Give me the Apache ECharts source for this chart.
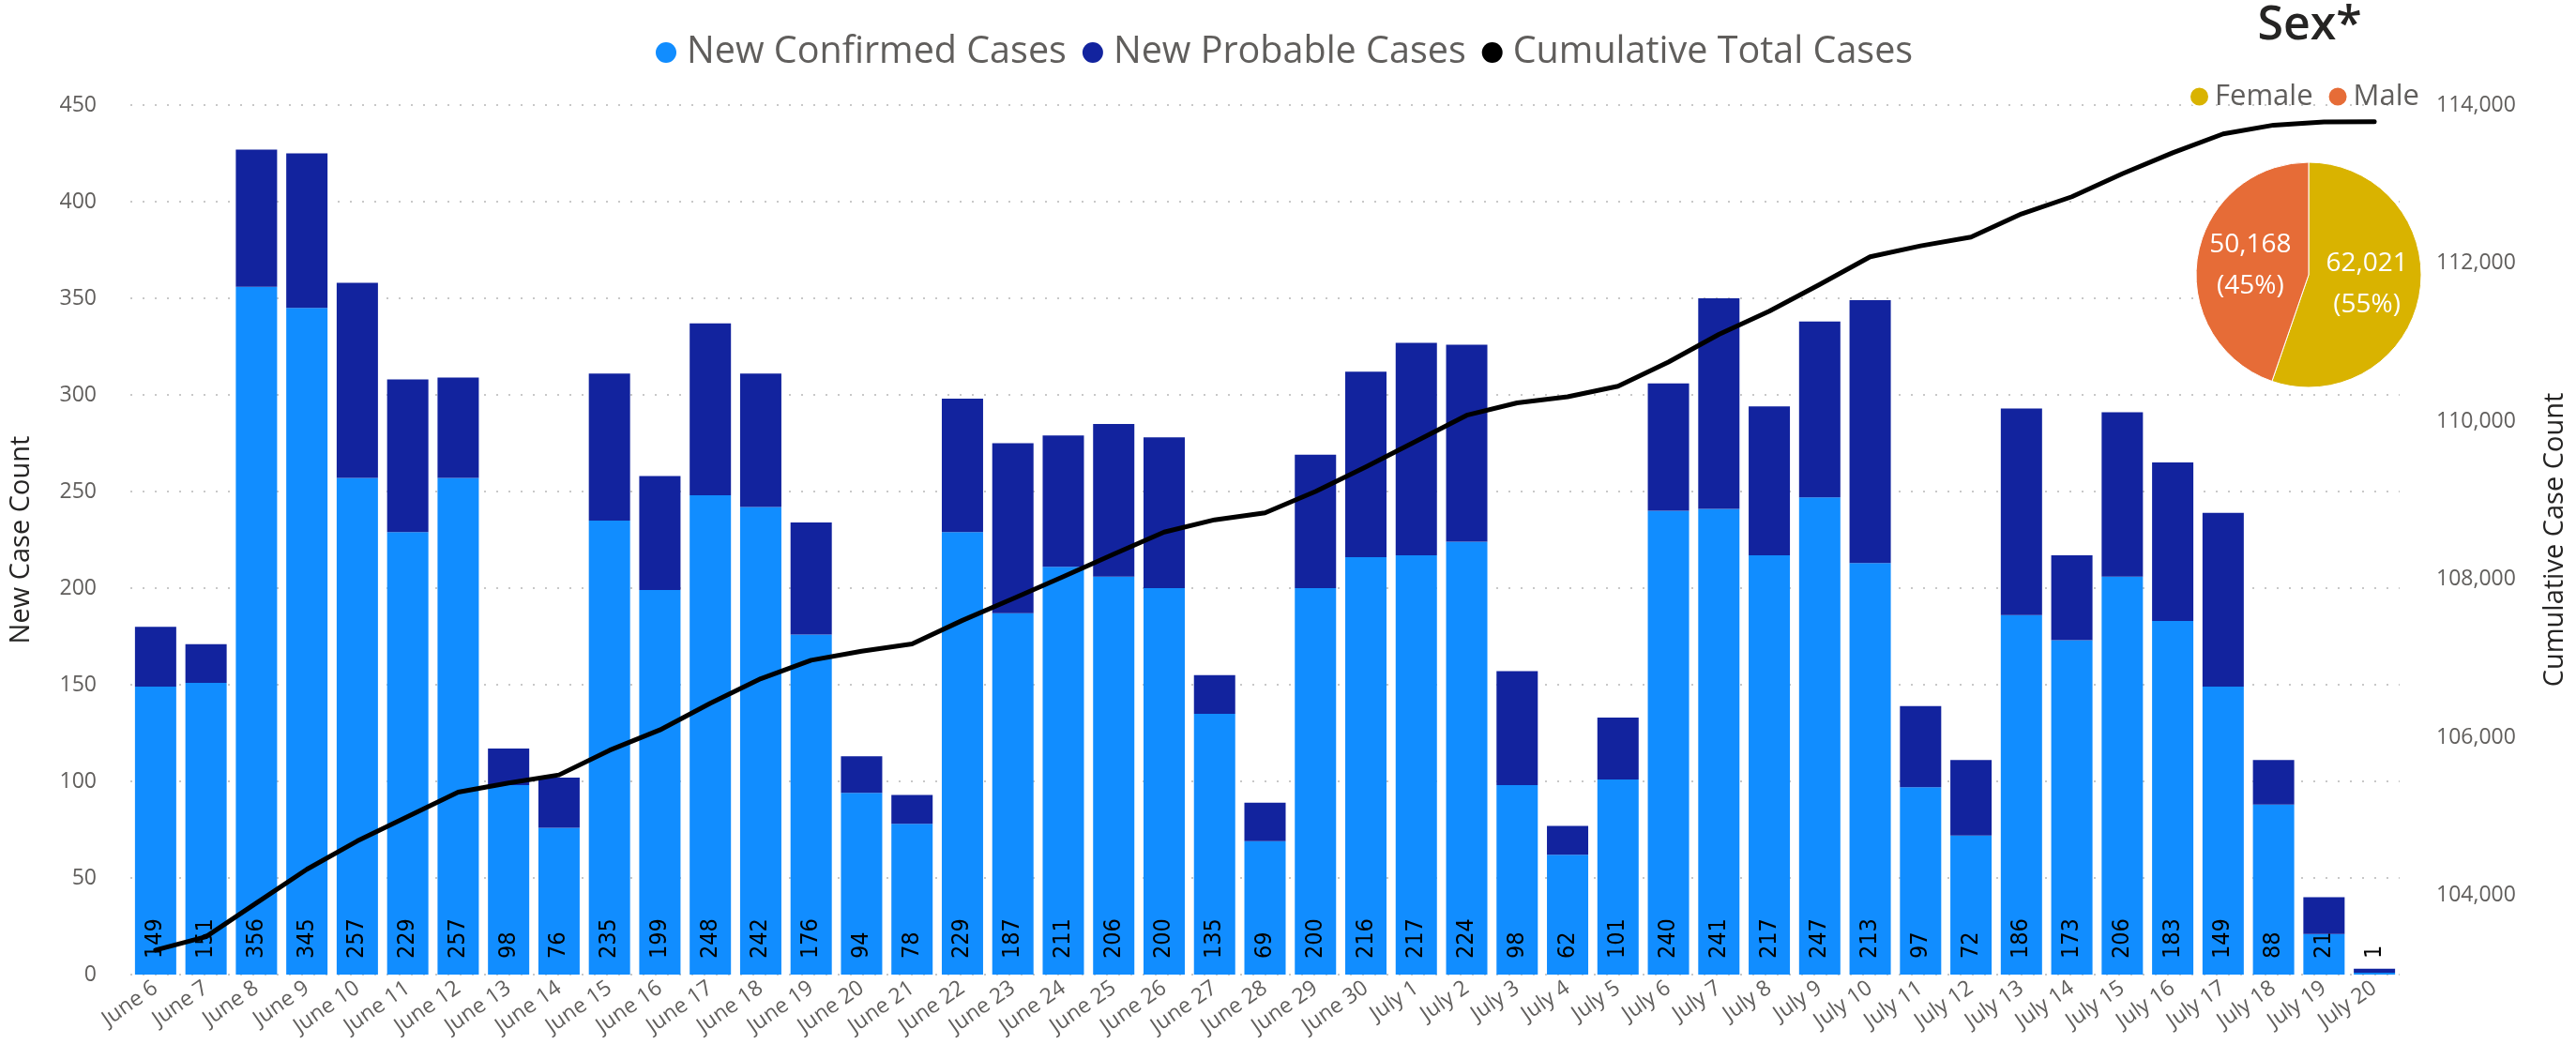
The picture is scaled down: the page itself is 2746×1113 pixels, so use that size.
<!DOCTYPE html>
<html>
<head>
<meta charset="utf-8">
<title>New and Cumulative Cases</title>
<script src="https://cdn.jsdelivr.net/npm/echarts@6/dist/echarts.min.js"></script>
<style>
  html, body { margin: 0; padding: 0; background: #fff; }
  #chart { width: 2746px; height: 1113px; }
</style>
</head>
<body>
<div id="chart"></div>
<script>
const days = [
  "June 6", "June 7", "June 8", "June 9", "June 10", "June 11", "June 12", "June 13",
  "June 14", "June 15", "June 16", "June 17", "June 18", "June 19", "June 20", "June 21",
  "June 22", "June 23", "June 24", "June 25", "June 26", "June 27", "June 28", "June 29",
  "June 30", "July 1", "July 2", "July 3", "July 4", "July 5", "July 6", "July 7",
  "July 8", "July 9", "July 10", "July 11", "July 12", "July 13", "July 14", "July 15",
  "July 16", "July 17", "July 18", "July 19", "July 20"
];
const newConfirmed = [
  149, 151, 356, 345, 257, 229, 257, 98, 76, 235, 199, 248, 242, 176, 94, 78,
  229, 187, 211, 206, 200, 135, 69, 200, 216, 217, 224, 98, 62, 101, 240, 241,
  217, 247, 213, 97, 72, 186, 173, 206, 183, 149, 88, 21, 1
];
const newProbable = [
  31, 20, 71, 80, 101, 79, 52, 19, 26, 76, 59, 89, 69, 58, 19, 15,
  69, 88, 68, 79, 78, 20, 20, 69, 96, 110, 102, 59, 15, 32, 66, 109,
  77, 91, 136, 42, 39, 107, 44, 85, 82, 90, 23, 19, 2
];
const cumulativeTotal = [
  103309, 103480, 103907, 104332, 104690, 104998, 105307, 105424, 105526, 105837,
  106095, 106432, 106743, 106977, 107090, 107183, 107481, 107756, 108035, 108320,
  108598, 108753, 108842, 109111, 109423, 109750, 110076, 110233, 110310, 110443,
  110749, 111099, 111393, 111731, 112080, 112219, 112330, 112623, 112840, 113131,
  113396, 113635, 113746, 113786, 113789
];
const sexLabels = ["Female", "Male"];
const sexCounts = [62021, 50168];
const rightTicks = [104000, 106000, 108000, 110000, 112000, 114000];

const font = "'Open Sans', 'Noto Sans', sans-serif";
const grey = "#605E5C";
const dark = "#252423";

const chart = echarts.init(document.getElementById("chart"));
chart.setOption({
  animation: false,
  textStyle: { fontFamily: font },
  title: {
    text: "Sex*",
    left: 2462,
    top: 3,
    padding: 0,
    textAlign: "center",
    textStyle: { fontSize: 50, fontWeight: 600, color: dark, lineHeight: 50, fontFamily: font }
  },
  legend: [
    {
      data: ["New Confirmed Cases", "New Probable Cases", "Cumulative Total Cases"],
      left: 699,
      top: 34,
      padding: 0,
      icon: "circle",
      itemWidth: 22,
      itemHeight: 22,
      itemGap: 17,
      selectedMode: false,
      textStyle: { fontSize: 39.5, lineHeight: 44, color: grey, fontFamily: font, padding: [0, 0, 0, 6] }
    },
    {
      data: sexLabels,
      left: 2333,
      top: 85,
      padding: 0,
      icon: "circle",
      itemWidth: 21,
      itemHeight: 21,
      itemGap: 15,
      selectedMode: false,
      textStyle: { fontSize: 31, lineHeight: 36, color: grey, fontFamily: font, padding: [0, 0, 0, 1] }
    }
  ],
  grid: { left: 131, right: 170, top: 112, bottom: 74 },
  xAxis: {
    type: "category",
    data: days,
    axisLine: { show: false },
    axisTick: { show: false },
    axisLabel: { interval: 0, rotate: 35, fontSize: 23, color: grey, margin: 12, fontFamily: font }
  },
  yAxis: [
    {
      type: "value",
      min: 0,
      max: 450,
      interval: 50,
      name: "New Case Count",
      nameLocation: "middle",
      nameGap: 102,
      nameRotate: 90,
      nameTextStyle: { fontSize: 29, color: dark, fontFamily: font },
      axisLine: { show: false },
      axisTick: { show: false },
      axisLabel: { fontSize: 23, color: grey, margin: 36, fontFamily: font },
      splitLine: { lineStyle: { type: [2, 11], color: "#c8c8c8", width: 2 } }
    },
    {
      type: "value",
      position: "right",
      min: 103000,
      max: 114000,
      interval: 1000,
      name: "Cumulative Case Count",
      nameLocation: "middle",
      nameGap: 151,
      nameRotate: 90,
      nameTextStyle: { fontSize: 29, color: dark, fontFamily: font },
      axisLine: { show: false },
      axisTick: { show: false },
      splitLine: { show: false },
      axisLabel: {
        fontSize: 23,
        color: grey,
        margin: 39,
        fontFamily: font,
        formatter: v => rightTicks.includes(v) ? v.toLocaleString("en-US") : ""
      }
    }
  ],
  series: [
    {
      name: "New Confirmed Cases",
      type: "bar",
      stack: "cases",
      barWidth: 44,
      data: newConfirmed,
      itemStyle: { color: "#118DFF" },
      label: {
        show: true,
        position: "insideBottom",
        rotate: 90,
        align: "left",
        verticalAlign: "middle",
        distance: 17,
        fontSize: 25,
        fontFamily: "'Liberation Sans Narrow', 'DejaVu Sans Condensed', sans-serif",
        color: "#000"
      }
    },
    {
      name: "New Probable Cases",
      type: "bar",
      stack: "cases",
      barWidth: 44,
      data: newProbable,
      itemStyle: { color: "#12239E" }
    },
    {
      name: "Cumulative Total Cases",
      type: "line",
      yAxisIndex: 1,
      z: 10,
      data: cumulativeTotal,
      symbol: "none",
      itemStyle: { color: "#000" },
      lineStyle: { color: "#000", width: 5, join: "round", cap: "round" }
    },
    {
      name: "Sex",
      type: "pie",
      center: [2461, 293],
      radius: 120,
      startAngle: 90,
      clockwise: true,
      silent: true,
      z: 20,
      data: sexLabels.map((s, i) => ({
        name: s,
        value: sexCounts[i],
        itemStyle: { color: i === 0 ? "#D9B300" : "#E66C37" }
      })),
      itemStyle: { borderColor: "#fff", borderWidth: 1 },
      labelLine: { show: false },
      label: {
        show: true,
        position: "inside",
        color: "#fff",
        fontSize: 28,
        lineHeight: 44,
        fontFamily: font,
        formatter: p => p.value.toLocaleString("en-US") + "\n(" + Math.round(p.percent) + "%)"
      }
    }
  ]
});
</script>
</body>
</html>
